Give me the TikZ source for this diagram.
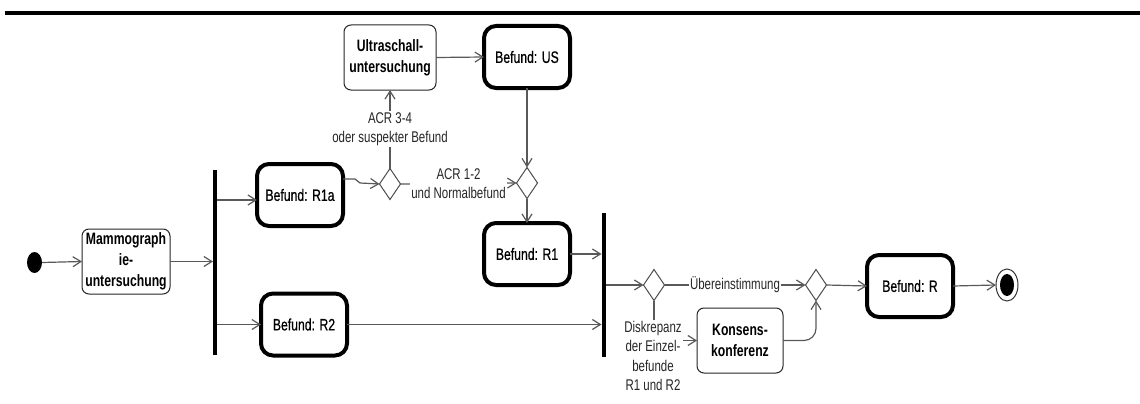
\documentclass[tikz,border=0pt]{standalone}
\usepackage{fontspec}
\setmainfont[FakeStretch=0.74]{Liberation Sans}
\newfontfamily\boxregular[FakeStretch=0.74,FakeBold=0.6]{Liberation Sans}
\usetikzlibrary{arrows.meta,shapes.geometric}
\begin{document}
\begin{tikzpicture}[x=1pt,y=-1pt,
  every node/.style={inner sep=0pt, outer sep=0pt},
  thickbox/.style={draw=black, line width=4pt, rounded corners=12pt, fill=white, align=center,
    minimum width=86pt, minimum height=62pt, font=\boxregular\fontsize{16.5}{21}\selectfont},
  thinbox/.style={draw=black!85, line width=1pt, rounded corners=7pt, fill=white, align=center,
    font=\fontsize{16.5}{21}\selectfont\bfseries},
  decision/.style={diamond, draw=black!70, line width=1pt, fill=white, minimum width=21pt, minimum height=31pt},
  forkbar/.style={rectangle, fill=black, minimum width=4pt},
  lbl/.style={fill=white, align=center, inner sep=1pt, text=black!85, font=\fontsize{15.5}{19.5}\selectfont},
  arr/.style={draw=black!65, line width=1.2pt, -{Straight Barb[length=8pt,width=10pt]}}
]
\useasboundingbox (0,0) rectangle (1140,404);
\draw[line width=4pt] (5,13) -- (1140,13);

% nodes
\node[ellipse, fill=black, minimum width=15pt, minimum height=21pt] (start) at (34.5,262.5) {};
\node[thinbox, minimum width=88pt, minimum height=65pt] (mammo) at (126,261.5) {Mammograph\\ie-\\untersuchung};
\node[forkbar, minimum height=185pt] (bar1) at (215,262.5) {};
\node[thickbox] (r1a) at (300,195) {Befund: R1a};
\node[thickbox] (r2) at (304,324.5) {Befund: R2};
\node[decision] (d1) at (390,184) {};
\node[thinbox, minimum width=92pt, minimum height=65pt] (ultra) at (390,57.5) {Ultraschall-\\untersuchung};
\node[thickbox] (us) at (527,57) {Befund: US};
\node[decision] (d2) at (527,183) {};
\node[thickbox] (r1) at (527,254) {Befund: R1};
\node[forkbar, minimum height=144pt] (bar2) at (603.5,285) {};
\node[decision] (d3) at (654,285) {};
\node[decision] (d4) at (816,285) {};
\node[thinbox, minimum width=86pt, minimum height=65pt] (kons) at (740,340.5) {Konsens-\\konferenz};
\node[thickbox] (r) at (910,286) {Befund: R};
\node[ellipse, draw=black!80, line width=1pt, fill=white, minimum width=22pt, minimum height=32pt] (end) at (1007,285) {};
\node[ellipse, fill=black, minimum width=14pt, minimum height=22pt] (endin) at (end.center) {};

% connectors
\draw[arr] (start.east) -- (mammo.west);
\draw[arr] (mammo.east) -- (mammo.east -| bar1.west);
\draw[arr] ([yshift=-5pt]r1a.west -| bar1.east) -- ([yshift=-5pt]r1a.west);
\draw[arr] (r2.west -| bar1.east) -- (r2.west);
\draw[arr] ([yshift=16pt]r1a.east) -- ++(12,0) -- ++(5,4) -- (d1.west);
\draw[arr] (d1.north) -- node[lbl] {ACR 3-4\\oder suspekter Befund} (ultra.south);
\draw[arr] (d1.east) -- node[lbl] {ACR 1-2\\und Normalbefund} (d2.west);
\draw[arr] (ultra.east) -- (us.west);
\draw[arr] (us.south) -- (d2.north);
\draw[arr] (d2.south) -- (r1.north);
\draw[arr] (r1.east) -- (r1.east -| bar2.west);
\draw[arr] (r2.east) -- (r2.east -| bar2.west);
\draw[arr] (d3.west -| bar2.east) -- (d3.west);
\draw[arr] (d3.east) -- node[lbl] {Übereinstimmung} (d4.west);
\draw[arr] (d3.south) |- (kons.west);
\node[lbl] (disk) at (653,356) {Diskrepanz\\der Einzel-\\befunde\\R1 und R2};
\draw[arr, rounded corners=12pt] (kons.east) -| (d4.south);
\draw[arr] (d4.east) -- (r.west);
\draw[arr] (r.east) -- (end.west);
\end{tikzpicture}
\end{document}
